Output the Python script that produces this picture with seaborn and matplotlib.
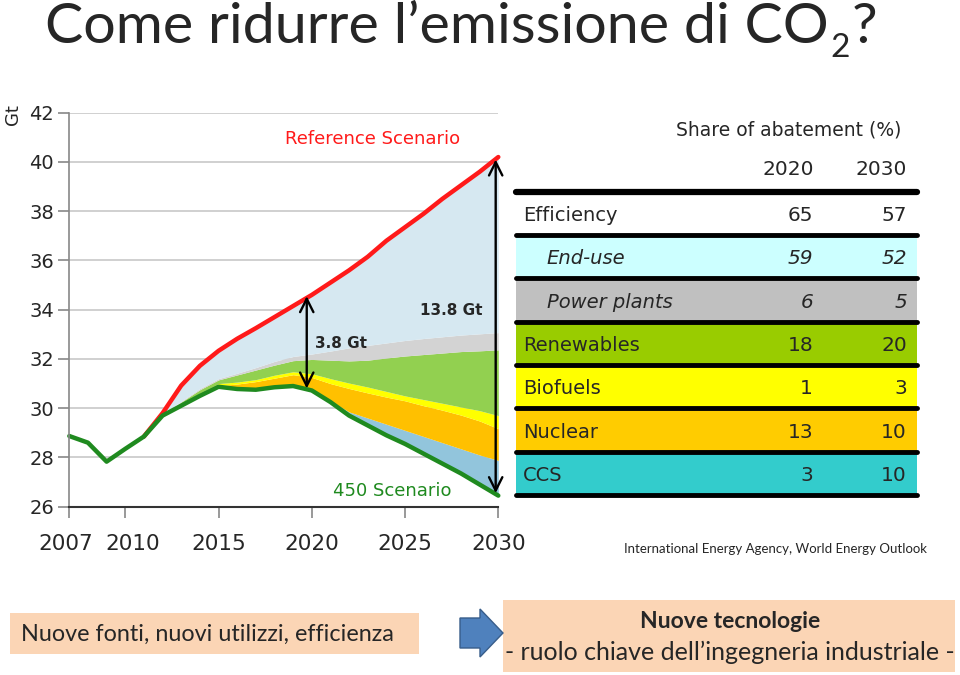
import numpy as np
import pandas as pd
import matplotlib
matplotlib.use("Agg")
import matplotlib.pyplot as plt
import matplotlib.transforms as mtransforms
from matplotlib.patches import Rectangle, Polygon
import seaborn as sns

# --- data ---
years = list(range(2007, 2031))
scen_450 = [28.87, 28.6, 27.83, 28.35, 28.85, 29.7, 30.1, 30.5, 30.87, 30.78, 30.75, 30.85,
            30.9, 30.72, 30.25, 29.7, 29.3, 28.9, 28.55, 28.15, 27.75, 27.35, 26.9, 26.45]
ref_years = list(range(2011, 2031))
scen_ref = [28.85, 29.8, 30.92, 31.72, 32.33, 32.82, 33.25, 33.7, 34.15, 34.6, 35.1, 35.6,
            36.15, 36.8, 37.35, 37.9, 38.5, 39.05, 39.6, 40.2]

# upper edge of each abatement wedge, 2012-2030
band_years = list(range(2012, 2031))
ccs_top = [29.7, 30.1, 30.5, 30.87, 30.78, 30.75, 30.85, 30.9, 30.72, 30.3, 29.85, 29.6,
           29.35, 29.1, 28.85, 28.6, 28.35, 28.1, 27.88]
nuclear_top = [29.7, 30.12, 30.55, 30.92, 30.98, 31.08, 31.22, 31.36, 31.25, 31.0, 30.8,
               30.62, 30.45, 30.3, 30.1, 29.92, 29.72, 29.48, 29.17]
biofuel_top = [29.72, 30.16, 30.62, 31.0, 31.06, 31.16, 31.34, 31.48, 31.4, 31.2, 31.02,
               30.86, 30.68, 30.5, 30.35, 30.2, 30.05, 29.9, 29.7]
renew_top = [29.74, 30.25, 30.75, 31.15, 31.35, 31.55, 31.75, 31.93, 31.98, 31.95, 31.92,
             31.95, 32.04, 32.12, 32.18, 32.24, 32.3, 32.33, 32.37]
power_top = [29.75, 30.28, 30.8, 31.2, 31.42, 31.65, 31.9, 32.1, 32.2, 32.32, 32.45, 32.55,
             32.65, 32.75, 32.83, 32.9, 32.97, 33.02, 33.07]

# table
rows = ["Efficiency", "End-use", "Power plants", "Renewables", "Biofuels", "Nuclear", "CCS"]
share_2020 = [65, 59, 6, 18, 1, 13, 3]
share_2030 = [57, 52, 5, 20, 3, 10, 10]
row_colors = ["#FFFFFF", "#CCFFFF", "#C0C0C0", "#99CC00", "#FFFF00", "#FFCC00", "#33CCCC"]

x_ticks = [2007, 2010, 2015, 2020, 2025, 2030]
y_ticks = list(range(26, 43, 2))

sns.set_theme(style="white")
plt.rcParams["font.family"] = ["DejaVu Sans"]

W, H = 960, 675
fig = plt.figure(figsize=(W / 100, H / 100), dpi=100)
fig.patch.set_facecolor("white")


def fx(x):
    return x / W


def fy(y):
    return 1 - y / H


# --- chart ---
ax = fig.add_axes([fx(69.3), fy(506.7), 429 / W, 394 / H])
ax.set_facecolor("white")
ax.set_xlim(2007, 2030)
ax.set_ylim(26, 42)

g = scen_450[5:]
r = scen_ref[1:]
ax.fill_between(band_years, g, ccs_top, color="#92C5DC", lw=0)
ax.fill_between(band_years, ccs_top, nuclear_top, color="#FFC000", lw=0)
ax.fill_between(band_years, nuclear_top, biofuel_top, color="#FFFF00", lw=0)
ax.fill_between(band_years, biofuel_top, renew_top, color="#92D050", lw=0)
ax.fill_between(band_years, renew_top, power_top, color="#D3D3D3", lw=0)
ax.fill_between(band_years, power_top, r, color="#D6E8F1", lw=0)

sns.lineplot(x=ref_years, y=scen_ref, ax=ax, color="#FF1A1A", lw=3.2, clip_on=False)
sns.lineplot(x=years, y=scen_450, ax=ax, color="#1F8A1F", lw=3.2, clip_on=False)

ax.set_xticks(x_ticks)
ax.set_yticks(y_ticks)
ax.tick_params(axis="x", length=8, width=1.2, color="#888888", labelsize=15.5, pad=12,
               bottom=True, direction="out")
ax.tick_params(axis="y", length=8, width=1.2, color="#888888", labelsize=14, pad=3,
               left=True, direction="out")
# nudge the first two year labels apart like in the original
shifts = {"2007": -4, "2010": 7}
for lab in ax.get_xticklabels():
    dx = shifts.get(lab.get_text(), 0)
    if dx:
        lab.set_transform(lab.get_transform() +
                          mtransforms.ScaledTranslation(dx / 100, 0, fig.dpi_scale_trans))
ax.yaxis.grid(True, color="#D0D0D0", lw=1.4)
ax.xaxis.grid(False)
ax.set_axisbelow(True)
for s in ["top", "right"]:
    ax.spines[s].set_visible(False)
ax.spines["left"].set_color("#888888")
ax.spines["left"].set_linewidth(1.2)
ax.spines["bottom"].set_color("#333333")
ax.spines["bottom"].set_linewidth(1.5)

arr = dict(arrowstyle="<->", lw=1.7, color="black", mutation_scale=24, shrinkA=0, shrinkB=0)
ax.annotate("", xy=(2019.73, 30.8), xytext=(2019.73, 34.55), arrowprops=arr)
ax.annotate("", xy=(2029.86, 26.55), xytext=(2029.86, 40.1), arrowprops=arr,
            annotation_clip=False)

ax.text(2023.28, 40.93, "Reference Scenario", color="#FF1A1A", fontsize=13,
        ha="center", va="center")
ax.text(2024.3, 26.62, "450 Scenario", color="#1F8A1F", fontsize=13,
        ha="center", va="center")
ax.text(2027.47, 33.98, "13.8 Gt", fontsize=11, fontweight="bold", ha="center", va="center")
ax.text(2021.57, 32.64, "3.8 Gt", fontsize=11, fontweight="bold", ha="center", va="center")
fig.text(fx(13), fy(104), "Gt", rotation=90, ha="center", va="top", fontsize=13)

# --- table ---
tax = fig.add_axes([fx(516), fy(495), 401 / W, 303.3 / H])
tax.set_xlim(0, 1)
tax.set_ylim(len(rows), 0)
tax.axis("off")
tax.barh(np.arange(len(rows)) + 0.5, 1, height=1, left=0, color=row_colors, lw=0)
for i in range(len(rows) + 1):
    tax.axhline(i, color="black", lw=4.5 if i == 0 else 3.5, clip_on=False)
for i, name in enumerate(rows):
    sub = name in ("End-use", "Power plants")
    st = "italic" if sub else "normal"
    tax.text(0.077 if sub else 0.0175, i + 0.55, name, ha="left", va="center",
             fontsize=14, style=st)
    tax.text(0.741, i + 0.55, str(share_2020[i]), ha="right", va="center", fontsize=14.5,
             style=st)
    tax.text(0.975, i + 0.55, str(share_2030[i]), ha="right", va="center", fontsize=14.5,
             style=st)
tax.text(0.679, -1.42, "Share of abatement (%)", ha="center", va="center", fontsize=13.5,
         clip_on=False)
tax.text(0.679, -0.52, "2020", ha="center", va="center", fontsize=14.5, clip_on=False)
tax.text(0.911, -0.52, "2030", ha="center", va="center", fontsize=14.5, clip_on=False)

# --- slide texts ---
cal = ["Lato", "DejaVu Sans"]
fig.text(fx(927), fy(549), "International Energy Agency, World Energy Outlook",
         ha="right", va="center", fontsize=9.5, family=cal)

fig.canvas.draw()
rend = fig.canvas.get_renderer()
t1 = fig.text(fx(45), fy(43), "Come ridurre l\u2019emissione di CO", ha="left",
              va="baseline", fontsize=41.3, family=cal)
bb = t1.get_window_extent(rend)
t2 = fig.text(bb.x1 / W + 0.002, fy(57), "2", ha="left", va="baseline", fontsize=24,
              family=cal)
bb2 = t2.get_window_extent(rend)
fig.text(bb2.x1 / W + 0.002, fy(43), "?", ha="left", va="baseline", fontsize=41.3,
         family=cal)

fig.add_artist(Rectangle((fx(10), fy(654)), fx(409), 41 / H, transform=fig.transFigure,
                         color="#FBD5B5", lw=0))
fig.add_artist(Rectangle((fx(503), fy(672)), fx(452), 72 / H, transform=fig.transFigure,
                         color="#FBD5B5", lw=0))
arrow_pts = [(460, 618), (480, 618), (480, 609), (503, 633), (480, 657), (480, 648), (460, 648)]
fig.add_artist(Polygon([(fx(a), fy(b)) for a, b in arrow_pts], closed=True,
                       transform=fig.transFigure, facecolor="#4F81BD", edgecolor="#385D8A",
                       lw=1))
fig.text(fx(21), fy(641), "Nuove fonti, nuovi utilizzi, efficienza", ha="left",
         va="baseline", fontsize=16.8, family=cal)
fig.text(fx(730), fy(628), "Nuove tecnologie", ha="center", va="baseline", fontsize=16.5,
         fontweight="bold", family=cal)
fig.text(fx(730), fy(660), "- ruolo chiave dell\u2019ingegneria industriale -", ha="center",
         va="baseline", fontsize=18, family=cal)

fig.savefig("out.png", dpi=100)
